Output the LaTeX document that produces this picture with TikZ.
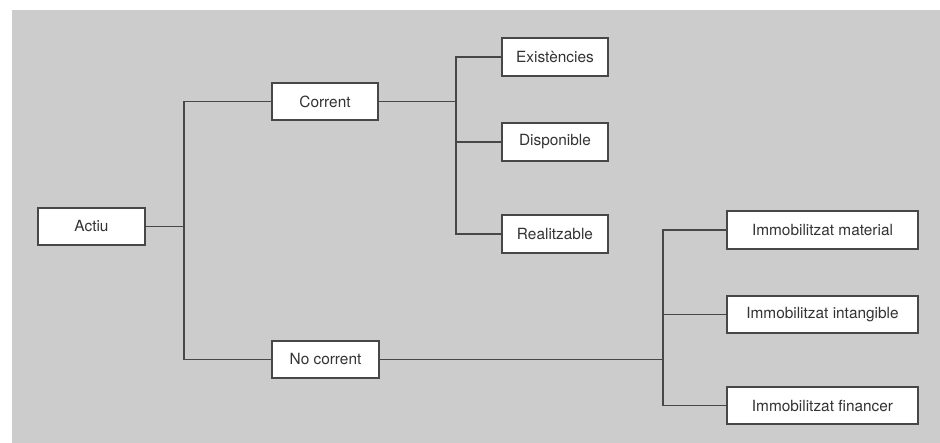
\documentclass[tikz,border=0pt]{standalone}
\usepackage{fontspec}
\setmainfont{TeX Gyre Heros}
\definecolor{panel}{HTML}{CCCCCC}
\definecolor{ink}{HTML}{474747}
\definecolor{label}{HTML}{333333}
\begin{document}
\begin{tikzpicture}[x=1pt,y=-1pt,
  box/.style={draw=ink, line width=1.2pt, fill=white, text=label,
    inner sep=0pt, minimum height=37pt, font=\fontsize{15.4pt}{18pt}\selectfont},
  narrow/.style={box, minimum width=106pt},
  wide/.style={box, minimum width=191pt},
  link/.style={draw=ink, line width=1.2pt}]
  % canvas and panel
  \useasboundingbox (0,0) rectangle (940,443);
  \fill[white] (0,0) rectangle (940,443);
  \fill[panel] (12,10) rectangle (940,443);

  % boxes
  \node[narrow, minimum width=107pt] (actiu) at (91.5,226.5) {Actiu};
  \node[narrow] (corrent) at (325,101.5) {Corrent};
  \node[narrow, minimum width=107pt] (nocorrent) at (325.5,359.5) {No corrent};
  \node[narrow, minimum height=38pt] (exist) at (555,57) {Existències};
  \node[narrow, minimum height=38pt] (dispo) at (555,142) {Disponible};
  \node[narrow, minimum height=38pt] (realit) at (555,234) {Realitzable};
  \node[wide, minimum height=38pt] (material) at (822.5,230) {Immobilitzat material};
  \node[wide] (intang) at (822.5,314.5) {Immobilitzat intangible};
  \node[wide] (financ) at (822.5,405.5) {Immobilitzat financer};

  % branch columns
  \coordinate (ta) at (184,0);
  \coordinate (tc) at (456,0);
  \coordinate (tn) at (663,0);

  % Actiu -> Corrent / No corrent
  \draw[link] (actiu.east) -- (actiu.east -| ta);
  \draw[link] (corrent.west) -- (corrent.west -| ta) -- (nocorrent.west -| ta) -- (nocorrent.west);

  % Corrent -> its three items
  \draw[link] (corrent.east) -- (corrent.east -| tc);
  \draw[link] (exist.west) -- (exist.west -| tc) -- (realit.west -| tc) -- (realit.west);
  \draw[link] (dispo.west -| tc) -- (dispo.west);

  % No corrent -> fixed assets
  \draw[link] (nocorrent.east) -- (nocorrent.east -| tn);
  \draw[link] (material.west) -- (material.west -| tn) -- (financ.west -| tn) -- (financ.west);
  \draw[link] (intang.west -| tn) -- (intang.west);
\end{tikzpicture}
\end{document}
